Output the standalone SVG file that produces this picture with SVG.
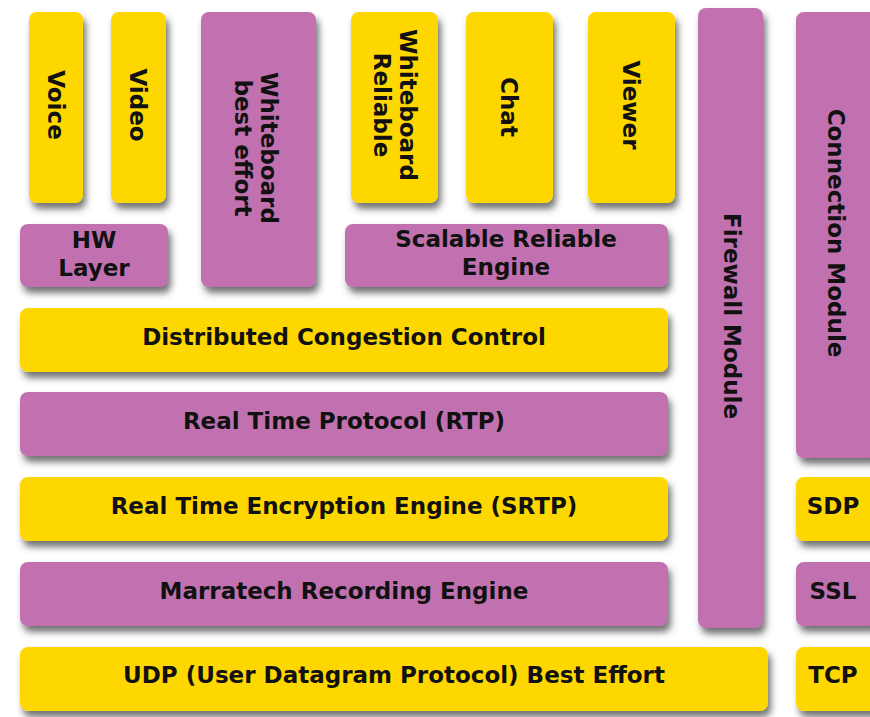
<svg xmlns="http://www.w3.org/2000/svg" width="870" height="717" viewBox="0 0 870 717">
<defs>
<filter id="sh" x="-20%" y="-20%" width="140%" height="140%">
<feDropShadow dx="3" dy="6" stdDeviation="3.5" flood-color="#444" flood-opacity="0.75"/>
</filter>
<style>
.y{fill:#FFD700;filter:url(#sh)}
.p{fill:#C271B0;filter:url(#sh)}
text{font-family:"DejaVu Sans","Verdana",sans-serif;font-weight:bold;font-size:23px;fill:#111;text-anchor:middle;dominant-baseline:central}
</style>
</defs>
<rect width="870" height="717" fill="#fff"/>
<g id="voice"><rect class="y" x="29" y="12" width="54" height="191" rx="8"/><text transform="translate(56,105) rotate(90)">Voice</text></g>
<g id="video"><rect class="y" x="111" y="12" width="55" height="191" rx="8"/><text transform="translate(138,105) rotate(90)">Video</text></g>
<g id="hw"><rect class="p" x="20" y="224" width="148" height="63" rx="8"/><text x="94" y="240">HW</text><text x="94" y="268">Layer</text></g>
<g id="wbbe"><rect class="p" x="201" y="12" width="115" height="275" rx="8"/><text transform="translate(256,148) rotate(90)"><tspan x="0" y="-13">Whiteboard</tspan><tspan x="0" y="13">best effort</tspan></text></g>
<g id="wbr"><rect class="y" x="351" y="12" width="87" height="191" rx="8"/><text transform="translate(395,105) rotate(90)"><tspan x="0" y="-13">Whiteboard</tspan><tspan x="0" y="13">Reliable</tspan></text></g>
<g id="chat"><rect class="y" x="466" y="12" width="87" height="191" rx="8"/><text transform="translate(509,107) rotate(90)">Chat</text></g>
<g id="viewer"><rect class="y" x="588" y="12" width="87" height="191" rx="8"/><text transform="translate(631,105) rotate(90)">Viewer</text></g>
<g id="sre"><rect class="p" x="345" y="224" width="323" height="63" rx="8"/><text x="506" y="239">Scalable Reliable</text><text x="506" y="267">Engine</text></g>
<g id="firewall"><rect class="p" x="698" y="8" width="65" height="620" rx="8"/><text transform="translate(732,316) rotate(90)">Firewall Module</text></g>
<g id="conn"><rect class="p" x="796" y="12" width="84" height="446" rx="8"/><text transform="translate(836,233) rotate(90)">Connection Module</text></g>
<g id="dcc"><rect class="y" x="20" y="308" width="648" height="64" rx="8"/><text x="344" y="337">Distributed Congestion Control</text></g>
<g id="rtp"><rect class="p" x="20" y="392" width="648" height="64" rx="8"/><text x="344" y="421">Real Time Protocol (RTP)</text></g>
<g id="srtp"><rect class="y" x="20" y="477" width="648" height="64" rx="8"/><text x="344" y="506">Real Time Encryption Engine (SRTP)</text></g>
<g id="rec"><rect class="p" x="20" y="562" width="648" height="64" rx="8"/><text x="344" y="591">Marratech Recording Engine</text></g>
<g id="udp"><rect class="y" x="20" y="647" width="748" height="64" rx="8"/><text x="394" y="675">UDP (User Datagram Protocol) Best Effort</text></g>
<g id="sdp"><rect class="y" x="796" y="477" width="84" height="64" rx="8"/><text x="833" y="506">SDP</text></g>
<g id="ssl"><rect class="p" x="796" y="562" width="84" height="64" rx="8"/><text x="833" y="591">SSL</text></g>
<g id="tcp"><rect class="y" x="796" y="647" width="84" height="64" rx="8"/><text x="833" y="675">TCP</text></g>
<g id="connectors"/>
</svg>
